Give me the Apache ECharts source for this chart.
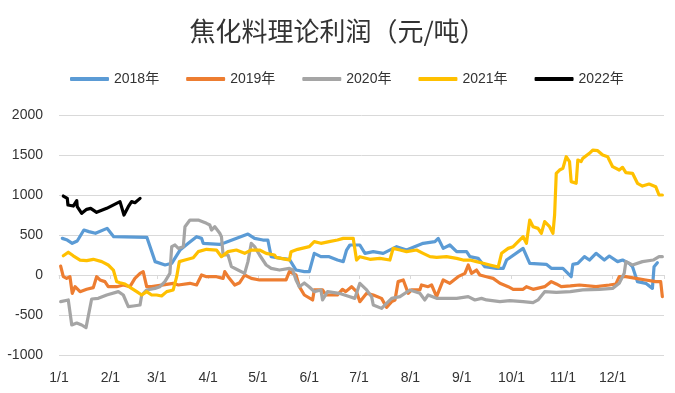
<!DOCTYPE html>
<html>
<head>
<meta charset="utf-8">
<script src="https://cdn.jsdelivr.net/npm/echarts@6/dist/echarts.min.js"></script>
<style>html,body{margin:0;padding:0;background:#fff}#c{width:675px;height:393px}</style>
</head>
<body>
<div id="c"></div>
<script>
// x = day of year (0 = 1/1), y = profit (元/吨)
const monthTicks = [0,31,59,90,120,151,181,212,243,273,304,334];
const monthLabels = ['1/1','2/1','3/1','4/1','5/1','6/1','7/1','8/1','9/1','10/1','11/1','12/1'];
const seriesNames = ['2018年','2019年','2020年','2021年','2022年'];

const s2018 = [[2,458],[5,437],[8,396],[11,425],[15,562],[18,542],[22,521],[29,583],[33,479],[53,471],[58,167],[64,125],[68,146],[73,312],[78,396],[83,479],[86,458],[87,396],[97,383],[100,404],[114,512],[118,458],[123,437],[126,437],[128,229],[134,208],[139,196],[143,62],[148,42],[151,42],[154,271],[158,229],[163,229],[168,187],[171.5,167],[173.5,312],[175.5,375],[181.5,375],[184.6,271],[189.6,292],[195.6,271],[203.7,354],[209.7,312],[219.7,396],[226.8,417],[228.8,458],[231.8,333],[235.8,375],[239.9,292],[245.9,292],[247.9,229],[252.9,208],[256.9,104],[264,83],[268,83],[270,187],[280,333],[284,146],[294,133],[297,83],[304,83],[309,-21],[310,133],[313,146],[317,229],[320,187],[324,271],[329,187],[332,237],[337,167],[340,187],[344,146],[346,104],[349,-83],[354,-104],[358,-167],[359,104],[361,154]];

const s2019 = [[1,112],[2.6,-21],[4.6,-42],[6.6,-21],[8,-229],[9.7,-146],[12.7,-208],[16.7,-179],[20.7,-158],[22.7,-21],[24.7,-62],[27.7,-83],[29.7,-146],[34.8,-146],[38.8,-125],[42.8,-146],[45.8,-42],[48.9,21],[50.8,42],[52.9,-146],[55.9,-146],[68.9,-104],[72,-125],[79,-104],[83,-125],[86,0],[89,-21],[95,-21],[99,-42],[100,42],[102,-21],[106,-125],[109,-96],[112,0],[116,-42],[121,-62],[131,-62],[137,-62],[139,42],[143,0],[145,-146],[148,-250],[153,-312],[154,-187],[159,-187],[161,-250],[168,-250],[171,-180],[173,-208],[176.5,-146],[179.5,-208],[181.5,-333],[185.6,-229],[189.6,-250],[194.6,-292],[197.6,-404],[200.7,-333],[202.7,-312],[204.6,-83],[207.7,-62],[210.7,-229],[212.7,-187],[217.7,-187],[218.7,-125],[222.7,-146],[224.8,-125],[227.8,-271],[231.8,-62],[235.8,-104],[240.8,-21],[244.9,21],[246.9,125],[248.9,21],[251.9,62],[253.9,0],[257.9,-21],[261.9,-42],[266,-104],[271,-146],[274,-179],[280,-179],[282,-146],[286,-179],[293,-146],[297,-83],[300,-112],[303,-146],[308.5,-137],[314,-125],[324,-146],[332,-125],[336,-112],[338,-21],[342,-21],[348,-42],[354,-62],[360,-83],[363,-83],[364,-271]];

const s2020 = [[1,-333],[5.6,-312],[7.7,-625],[10.7,-600],[13.7,-625],[16.3,-658],[19.7,-300],[23.7,-292],[28.8,-250],[35.8,-208],[38.8,-250],[41.8,-396],[44.8,-387],[48.9,-375],[49.9,-250],[52.9,-187],[57.9,-167],[60.9,-146],[63.9,-83],[66.9,21],[68,354],[70,375],[72,333],[75,354],[76,604],[79,687],[84,687],[89,646],[91,625],[92,562],[94,604],[97,521],[98,479],[99,250],[102,250],[104,104],[108,62],[112,21],[114,167],[116,396],[118,354],[121,250],[125,125],[128,83],[133,62],[139,83],[141,62],[143,-62],[145,-146],[148,-100],[151,-150],[154,-208],[158,-187],[159,-312],[162,-208],[169,-229],[175.5,-271],[178.5,-292],[181.5,-104],[185.6,-187],[188.6,-271],[189.6,-375],[194.6,-417],[197.6,-354],[200.7,-292],[205.7,-271],[211.7,-187],[217.7,-229],[220.7,-312],[222.7,-250],[227.8,-292],[233.8,-292],[239.9,-292],[246.9,-271],[250.9,-312],[254.9,-292],[257.9,-312],[266,-333],[272,-321],[280,-333],[286,-346],[289,-312],[293,-208],[300,-217],[308.5,-208],[316,-187],[326,-179],[334,-167],[338,-104],[341,21],[342,167],[346,125],[352,167],[358.5,187],[362,229],[364,229]];

const s2021 = [[2.6,240],[5.6,285],[8.6,240],[12.7,187],[16.7,179],[20.7,196],[25.8,167],[29.7,125],[32.8,62],[34.8,-83],[36.8,-96],[39.8,-112],[43.8,-167],[46.9,-208],[49.9,-250],[52.9,-208],[55.9,-250],[58.9,-250],[61.9,-262],[65,-208],[68.9,-187],[71,-21],[72.6,167],[76,187],[81,215],[84,292],[89,321],[95,312],[98,229],[102,292],[107,312],[112,271],[116,312],[121,312],[125,271],[130,250],[131,221],[137,196],[139,187],[140,292],[144,321],[151,354],[154,417],[158,396],[163,417],[168,437],[171.5,458],[172.5,479],[177.5,458],[179.5,187],[181.5,229],[187.6,196],[193.6,208],[199.6,187],[201.6,333],[205.7,312],[209.7,292],[215.7,312],[219.7,271],[223.8,229],[227.8,221],[233.8,229],[239.9,208],[243.8,187],[247.9,187],[251.9,167],[255.9,146],[259.9,125],[265,100],[267,271],[271,333],[274,354],[277,417],[280,479],[282,396],[284,687],[286,604],[289,583],[291,521],[293,667],[296,604],[298,521],[299,750],[300,1271],[302,1312],[304,1333],[306,1479],[308,1417],[309,1167],[312,1146],[313,1437],[315,1417],[316,1458],[320,1521],[322,1562],[325,1554],[328,1500],[331,1479],[334,1354],[338,1312],[340,1346],[342,1279],[346,1271],[349,1146],[352,1112],[356,1137],[360,1104],[362,1000],[364,1000]];

const s2022 = [[2.6,987],[5,958],[5.4,875],[8.6,862],[10.7,930],[11,854],[13.7,771],[16.7,821],[19.1,833],[22.7,783],[28.8,833],[36.8,917],[39.2,750],[41.8,854],[43.8,917],[45.8,904],[48.9,958]];

const seriesData = [s2018, s2019, s2020, s2021, s2022];
const colors = ['#5B9BD5','#ED7D31','#A5A5A5','#FFC000','#000000'];

const FONT = "'Liberation Sans', 'Noto Sans CJK SC', sans-serif";
const chart = echarts.init(document.getElementById('c'), null, {renderer: 'canvas'});
chart.setOption({
  animation: false,
  backgroundColor: '#fff',
  color: colors,
  title: {
    text: '焦化料理论利润（元/吨）',
    left: 'center',
    top: 13,
    textStyle: {fontFamily: "'Noto Sans CJK SC', sans-serif", fontSize: 26, fontWeight: 'normal', color: '#333'}
  },
  legend: {
    left: 65,
    top: 67,
    itemWidth: 39,
    itemHeight: 4,
    itemGap: 27,
    icon: 'roundRect',
    textStyle: {fontFamily: FONT, fontSize: 14, color: '#333'},
    data: seriesNames
  },
  grid: {left: 59, right: 11, top: 115, bottom: 38, containLabel: false},
  xAxis: [{
    type: 'value', min: 0, max: 365, position: 'bottom',
    axisLine: {show: true, onZero: true, lineStyle: {color: '#D9D9D9', width: 1}},
    axisTick: {show: true, customValues: monthTicks.concat([365]), length: 4, lineStyle: {color: '#D9D9D9'}},
    axisLabel: {show: false},
    splitLine: {show: false}
  }, {
    type: 'value', min: 0, max: 365, position: 'bottom',
    axisLine: {show: false, onZero: false},
    axisTick: {show: false},
    splitLine: {show: false},
    axisLabel: {
      show: true, customValues: monthTicks, margin: 16,
      fontFamily: FONT, fontSize: 14, color: '#333',
      formatter: function (v) { const i = monthTicks.indexOf(v); return i >= 0 ? monthLabels[i] : ''; }
    }
  }],
  yAxis: {
    type: 'value', min: -1000, max: 2000, interval: 500,
    axisLine: {show: false}, axisTick: {show: false},
    axisLabel: {fontFamily: FONT, fontSize: 14, color: '#333', margin: 16, formatter: function (v) { return String(v); }},
    splitLine: {lineStyle: {color: '#D9D9D9', width: 1}}
  },
  series: seriesNames.map((n, i) => ({
    name: n, type: 'line', xAxisIndex: 0, data: seriesData[i],
    showSymbol: false, symbol: 'none',
    lineStyle: {width: 3.2, color: colors[i], cap: 'round', join: 'round'},
    itemStyle: {color: colors[i]},
    z: 2 + i
  }))
});
</script>
</body>
</html>
